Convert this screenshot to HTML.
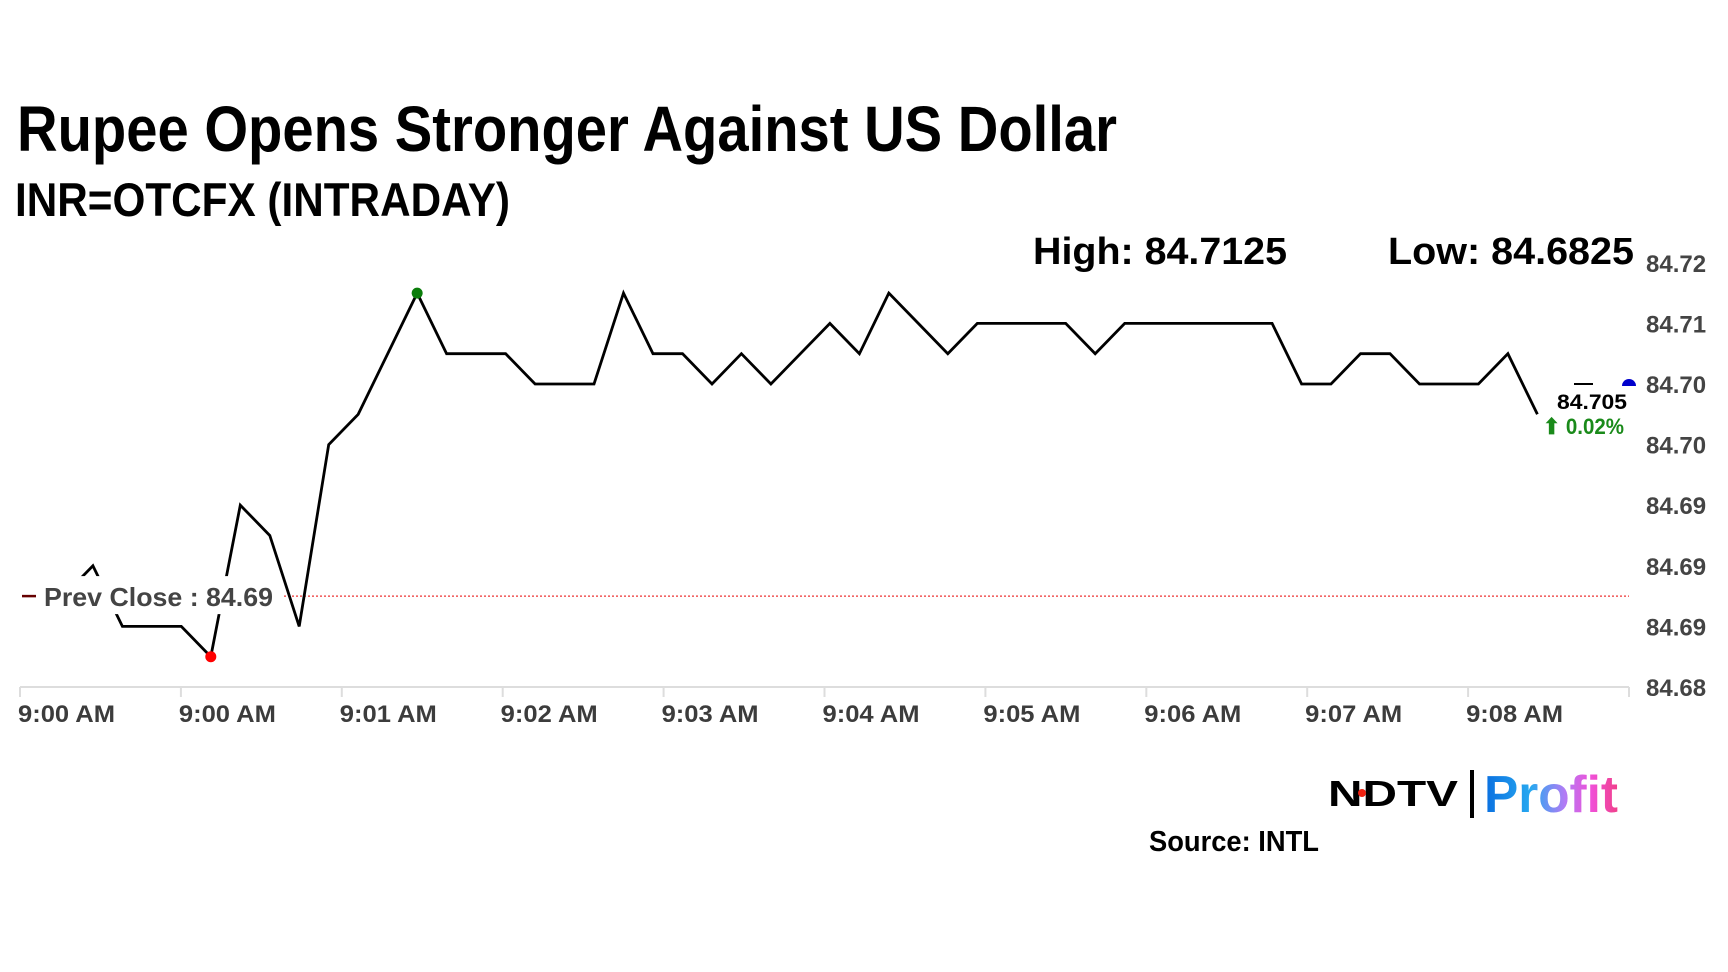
<!DOCTYPE html>
<html><head><meta charset="utf-8"><style>
html,body{margin:0;padding:0;background:#fff;}
svg{display:block;font-family:"Liberation Sans",Arial,sans-serif;}
</style></head><body>
<svg id="chart" width="1728" height="972" viewBox="0 0 1728 972">
<text x="17" y="151" font-size="64" font-weight="bold" textLength="1100" lengthAdjust="spacingAndGlyphs">Rupee Opens Stronger Against US Dollar</text>
<text x="15" y="216" font-size="47" font-weight="bold" textLength="495" lengthAdjust="spacingAndGlyphs">INR=OTCFX (INTRADAY)</text>
<text x="1033" y="264" font-size="38" font-weight="bold" textLength="254" lengthAdjust="spacingAndGlyphs">High: 84.7125</text>
<text x="1388" y="264" font-size="38" font-weight="bold" textLength="246" lengthAdjust="spacingAndGlyphs">Low: 84.6825</text>
<g id="plot"></g>
<text x="1149" y="851" font-size="29" font-weight="bold" textLength="170" lengthAdjust="spacingAndGlyphs">Source: INTL</text>
<g>
<defs><linearGradient id="pg" x1="0" x2="1" y1="0" y2="0"><stop offset="0" stop-color="#0a6fe0"/><stop offset="0.35" stop-color="#27a8f0"/><stop offset="0.6" stop-color="#b07cf5"/><stop offset="0.8" stop-color="#f050d8"/><stop offset="1" stop-color="#f0408a"/></linearGradient></defs>
<text x="1328" y="806" font-size="36" font-weight="900" textLength="130" lengthAdjust="spacingAndGlyphs" fill="#000">NDTV</text>
<circle cx="1362" cy="793" r="4" fill="#e21"/>
<rect x="1470" y="770" width="4" height="48" fill="#000"/>
<text x="1484" y="812" font-size="52" font-weight="bold" textLength="134" lengthAdjust="spacingAndGlyphs" fill="url(#pg)">Profit</text>
</g>
</svg>
<script>
const yTicks = [84.715, 84.71, 84.705, 84.70, 84.695, 84.69, 84.685, 84.68];
const yTickLabels = ["84.72","84.71","84.70","84.70","84.69","84.69","84.69","84.68"];
const xTickLabels = ["9:00 AM","9:00 AM","9:01 AM","9:02 AM","9:03 AM","9:04 AM","9:05 AM","9:06 AM","9:07 AM","9:08 AM"];
const prices = [84.6875,84.69,84.685,84.685,84.685,84.6825,84.695,84.6925,84.685,84.70,84.7025,84.7075,84.7125,84.7075,84.7075,84.7075,84.705,84.705,84.705,84.7125,84.7075,84.7075,84.705,84.7075,84.705,84.7075,84.71,84.7075,84.7125,84.71,84.7075,84.71,84.71,84.71,84.71,84.7075,84.71,84.71,84.71,84.71,84.71,84.71,84.705,84.705,84.7075,84.7075,84.705,84.705,84.705,84.7075,84.7025];
const prevClose = 84.6875;
const lastPrice = "84.705";
const changePct = "0.02%";
const lowIndex = 5, highIndex = 12;

const NS = "http://www.w3.org/2000/svg";
const plot = document.getElementById('plot');
const yScale = v => 687 - (v - 84.68) * 12120;
const xScale = i => 63.4 + 29.48 * i;
const xTickPos = k => 20 + 160.9 * k;
function mk(tag, attrs){const e=document.createElementNS(NS,tag);for(const k in attrs)e.setAttribute(k,attrs[k]);plot.appendChild(e);return e;}

let axis = mk('line',{x1:20,x2:1629,y1:687,y2:687,stroke:'#ddd','stroke-width':2});



xTickLabels.forEach((t,k)=>{
  const x = xTickPos(k);
  const tk = mk('line',{x1:x,x2:x,y1:687,y2:697,stroke:'#ddd','stroke-width':2});
  
  
  const tx = mk('text',{x:x-2,y:722,'font-size':24,'font-weight':'bold',fill:'#3c3c3c',textLength:97,lengthAdjust:'spacingAndGlyphs'});
  tx.textContent = t;
  
  
});
const endTick = mk('line',{x1:1629,x2:1629,y1:687,y2:697,stroke:'#ddd','stroke-width':2});



yTicks.forEach((v,k)=>{
  const ty = mk('text',{x:1646,y:yScale(v)+9,'font-size':24,'font-weight':'bold',fill:'#444'});
  ty.textContent = yTickLabels[k];
  
  
});

const pc = mk('line',{x1:284,x2:1629,y1:yScale(prevClose),y2:yScale(prevClose),stroke:'#e33','stroke-width':1.3,'stroke-dasharray':'2,2'});



const pts = prices.map((v,i)=>xScale(i).toFixed(1)+','+yScale(v).toFixed(1)).join(' ');
const line = mk('polyline',{points:pts,fill:'none',stroke:'#000','stroke-width':2.8,'stroke-linejoin':'miter'});



const pcbg = mk('rect',{x:40,y:yScale(prevClose)-20,width:238,height:38,fill:'#fff'});


const pcd = mk('line',{x1:22,x2:36,y1:yScale(prevClose),y2:yScale(prevClose),stroke:'#600','stroke-width':2.5});


const pct = mk('text',{x:44,y:yScale(prevClose)+10,'font-size':26,'font-weight':'bold',fill:'#444',textLength:229,lengthAdjust:'spacingAndGlyphs'});
pct.textContent = 'Prev Close : ' + prevClose.toFixed(2);



const lbg = mk('rect',{x:1553,y:390,width:78,height:48,fill:'#fff'});


const ld = mk('line',{x1:1574,x2:1593,y1:384,y2:384,stroke:'#000','stroke-width':2});


const lt = mk('text',{x:1557,y:409,'font-size':21,'font-weight':'bold',fill:'#000',textLength:70,lengthAdjust:'spacingAndGlyphs'});
lt.textContent = lastPrice;


const ct = mk('text',{x:1543,y:434,'font-size':22,'font-weight':'bold',fill:'#1a8a1a',textLength:81,lengthAdjust:'spacingAndGlyphs'});
ct.textContent = '\u2B06 ' + changePct;



const lowDot = mk('circle',{cx:xScale(lowIndex),cy:yScale(prices[lowIndex]),r:5.5,fill:'#f00'});


const hiDot = mk('circle',{cx:xScale(highIndex),cy:yScale(prices[highIndex]),r:5.5,fill:'#0a7d0a'});


const bd = mk('path',{d:'M1622,386 A7,7 0 0 1 1636,386 Z',fill:'#0000cc'});


</script>
</body></html>
